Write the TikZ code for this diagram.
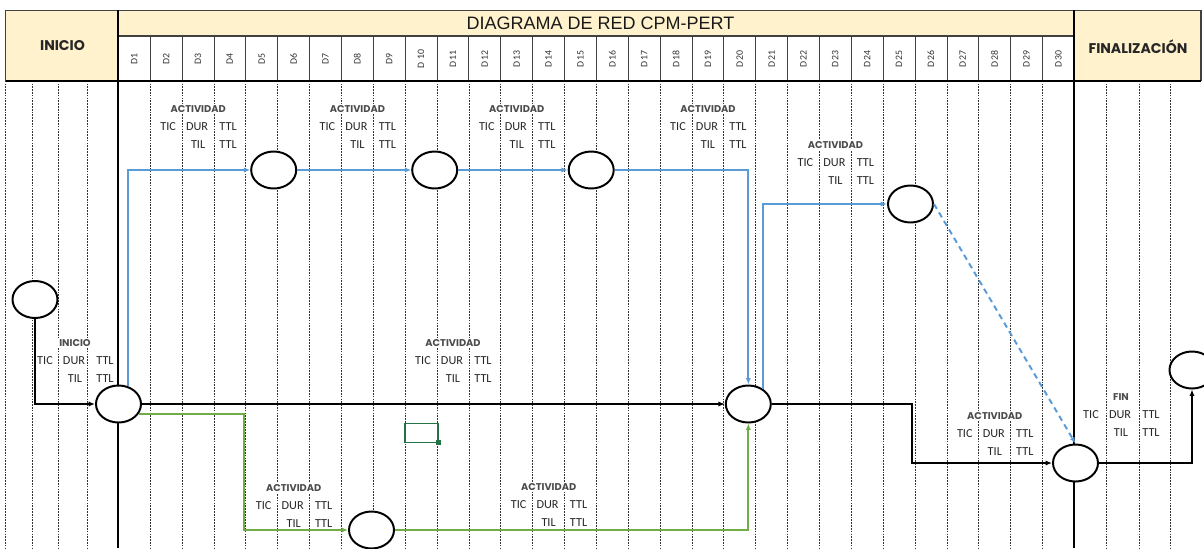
\documentclass[tikz,border=0pt]{standalone}
\usepackage{fontspec}
\setmainfont{Carlito}
\newfontfamily\gothicfont{Poppins}
\newfontfamily\titlefont{Liberation Sans}
\usetikzlibrary{arrows.meta,shapes.geometric,calc}
\definecolor{hdrYellow}{HTML}{FFF2CC}
\definecolor{netBlue}{HTML}{5B9BD5}
\definecolor{netGreen}{HTML}{70AD47}
\definecolor{selGreen}{HTML}{217346}
\definecolor{gridGray}{HTML}{404040}

% Activity label: name, x of TIC column, y of heading, heading.
\newcommand{\actblock}[4]{%
    \node[acthead] (#1h) at (#2+32,#3) {#4};
    \node[actcell] (#1a) at (#2+2,#3+17.5) {TIC};
    \node[actcell] (#1b) at (#2+31,#3+17.5) {DUR};
    \node[actcell] (#1c) at (#2+62,#3+17.5) {TTL};
    \node[actcell] (#1d) at (#2+32,#3+35.5) {TIL};
    \node[actcell] (#1e) at (#2+62,#3+35.5) {TTL};
}

\begin{document}
\begin{tikzpicture}[
    x=0.025cm, y=-0.025cm,
    frame/.style={draw=gridGray, line width=0.9pt},
    divider/.style={line width=1.4pt, black},
    cellline/.style={line width=0.5pt, black!75},
    gridline/.style={line width=0.45pt, black!80, dash pattern=on 1.2pt off 0.8pt},
    hdrtext/.style={font=\gothicfont\bfseries\fontsize{10}{12}\selectfont, text=black!85},
    daylbl/.style={rotate=90, font=\fontsize{7}{8}\selectfont, text=black!80, inner sep=0pt},
    acthead/.style={font=\gothicfont\bfseries\fontsize{7}{8}\selectfont, text=black!70, fill=white, inner sep=1pt},
    actcell/.style={font=\fontsize{8.7}{9}\selectfont, text=black!85, inner sep=0pt},
    evento/.style={ellipse, draw, line width=1.4pt, fill=white, minimum width=1.125cm, minimum height=0.925cm, inner sep=0pt},
    blk/.style={-{Latex[length=1.6mm,width=1.3mm]}, line width=1.2pt, black},
    blu/.style={-{Latex[length=1.6mm,width=1.3mm]}, line width=1.3pt, netBlue},
    grn/.style={-{Latex[length=1.6mm,width=1.3mm]}, line width=1.3pt, netGreen}
]
\useasboundingbox (0,0) rectangle (1204,548);

% Header.
\fill[hdrYellow] (5.7,10.3) rectangle (118.3,80.7);
\fill[hdrYellow] (118.3,10.3) rectangle (1074.3,36);
\fill[hdrYellow] (1074.3,10.3) rectangle (1201,80.7);
\node[hdrtext] (hIni) at (62.5,46) {INICIO};
\node[hdrtext] (hFin) at (1138,46.5) {FINALIZACIÓN};
\node[font=\titlefont\fontsize{12.8}{14}\selectfont, text=black!90] (hTitle) at (600.5,23.5) {DIAGRAMA DE RED CPM-PERT};
\foreach \i [evaluate=\i as \x using 118.3+(\i-0.5)*31.867] in {1,...,30}{
    \node[daylbl] (day\i) at (\x,59) {\ifnum\i=10 D 10\else D\i\fi};
}
\foreach \i [evaluate=\i as \x using 118.3+\i*31.867] in {1,...,29}{
    \draw[cellline] (\x,36) -- (\x,80.7);
    \draw[gridline] (\x,80.7) -- (\x,548);
}
\draw[frame] (5.7,80.7) |- (1201,10.3) -- (1201,80.7);
\draw[frame] (118.3,36) -- (1074.3,36);

% Side columns of the body.
\foreach \x in {5.7,32.3,58.3,87.3,1106.7,1139,1170.7}{
    \draw[gridline] (\x,80.7) -- (\x,548);
}
\draw[divider] (5.7,80.7) -- (1201,80.7);
\draw[divider] (118.3,10.3) -- (118.3,548);
\draw[divider] (1074.3,10.3) -- (1074.3,548);

% Activity labels.
\actblock{aIni}{43}{343.3}{INICIO}
\actblock{a1}{166.1}{108.7}{ACTIVIDAD}
\actblock{a2}{325.4}{108.7}{ACTIVIDAD}
\actblock{a3}{484.8}{108.7}{ACTIVIDAD}
\actblock{a4}{676.0}{108.7}{ACTIVIDAD}
\actblock{a5}{803.4}{144.7}{ACTIVIDAD}
\actblock{a6}{421.0}{343.3}{ACTIVIDAD}
\actblock{a7}{261.7}{487.7}{ACTIVIDAD}
\actblock{a8}{516.6}{487.5}{ACTIVIDAD}
\actblock{a9}{962.8}{415.7}{ACTIVIDAD}
\actblock{aFin}{1089}{397.3}{FIN}

% Selected cell.
\draw[selGreen, line width=1.1pt] (405,423.3) rectangle (438,442.7);
\fill[selGreen] (435.5,440.2) rectangle (440.5,445.2);

% Events.
\node[evento] (ev0) at (35,299.5) {};
\node[evento] (ev1) at (118.5,404) {};
\node[evento] (ev2) at (273.7,170) {};
\node[evento] (ev3) at (434.7,170) {};
\node[evento] (ev4) at (591.2,170) {};
\node[evento] (ev5) at (748.3,404) {};
\node[evento] (ev6) at (910.5,204) {};
\node[evento] (ev7) at (371.5,530) {};
\node[evento] (ev8) at (1075.5,463) {};
\node[evento] (ev9) at (1192,370) {};
\coordinate (k1) at (912,404);
\coordinate (k2) at (244,530);

% Activities.
\draw[blk] (ev0) |- (ev1);
\draw[blk] (ev1) -- (ev5);
\draw[blu] (ev1.62) |- (ev2);
\draw[blu] (ev2) -- (ev3);
\draw[blu] (ev3) -- (ev4);
\draw[blu] (ev4) -| (ev5);
\draw[blu] (ev5.45) |- (ev6);
\draw[blu, line width=1.4pt, dash pattern=on 4pt off 3pt] (ev6.east) -- (ev8.north);
\draw[grn] (ev1.-27) -| (k2) -- (ev7);
\draw[grn] (ev7) -| (ev5);
\draw[blk] (ev5) -- (k1) |- (ev8);
\draw[blk] (ev8) -| (ev9);
\end{tikzpicture}
\end{document}
